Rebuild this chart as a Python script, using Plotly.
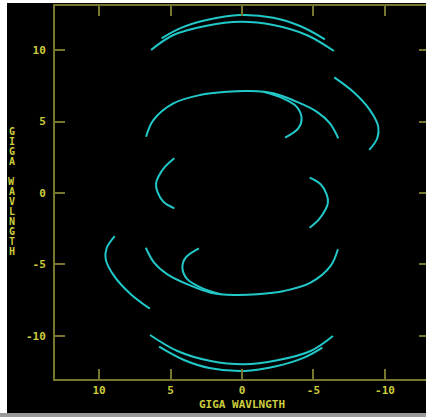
import plotly.graph_objects as go

# UV tracks (u, v in giga-wavelengths); conjugates are (-u, -v)
a1_u = [5.62, 4.34, 2.47, 0.14, -2.19, -4.06, -5.80]
a1_v = [10.82, 11.52, 12.10, 12.45, 12.26, 11.68, 10.75]
a2_u = [6.36, 4.80, 2.47, 0.14, -2.19, -4.52, -6.43]
a2_v = [10.00, 11.05, 11.70, 11.98, 11.75, 11.05, 9.93]
b_u = [6.71, 6.20, 4.80, 2.94, 1.07, -0.56, -2.19, -3.83, -5.22, -6.15, -6.73]
b_v = [3.94, 5.10, 6.27, 6.85, 7.08, 7.13, 6.97, 6.38, 5.69, 4.87, 3.83]
c_u = [-1.50, -2.87, -3.83, -4.17, -3.94, -3.01]
c_v = [7.08, 6.62, 6.03, 5.22, 4.52, 3.87]
d_u = [-6.45, -7.78, -8.95, -9.53, -9.46, -8.90]
d_v = [8.09, 7.08, 5.80, 4.64, 3.83, 3.01]
e_u = [4.73, 5.38, 5.85, 6.01, 5.92, 5.50, 4.73]
e_v = [2.43, 1.84, 1.14, 0.68, 0.09, -0.61, -1.07]

tracks = [(a1_u, a1_v), (a2_u, a2_v), (b_u, b_v), (c_u, c_v), (d_u, d_v), (e_u, e_v)]

tick_vals = [10, 5, 0, -5, -10]
tick_text = ["10", "5", "0", "-5", "-10"]
axis_title = "GIGA WAVLNGTH"

CYAN = "#22c8c8"
LINE = "#76762e"
TEXT = "#cccc3c"
FONT = "DejaVu Sans Mono"

fig = go.Figure()
for u, v in tracks:
    for su, sv in ((u, v), ([-x for x in u], [-y for y in v])):
        fig.add_trace(go.Scatter(x=su, y=sv, mode="lines",
                                 line=dict(color=CYAN, width=2, shape="spline"),
                                 hoverinfo="skip", showlegend=False))
# helper trace so the right-hand tick axis is drawn
fig.add_trace(go.Scatter(x=[], y=[], yaxis="y2", showlegend=False, hoverinfo="skip"))

W, H = 426, 417
ml, mt, mb = 55, 6, 38
pw, ph = W - ml, H - mt - mb

def px_to_paper_x(px):
    return (px - ml) / pw

def px_to_paper_y(py):
    return (H - mb - py) / ph

tickfont = dict(family=FONT, size=11, color=TEXT, weight="bold")
fig.update_layout(
    width=W, height=H,
    margin=dict(l=ml, r=0, t=mt, b=mb, pad=0),
    paper_bgcolor="black", plot_bgcolor="black",
    xaxis=dict(range=[13.08, -12.87], tickvals=tick_vals, ticktext=tick_text,
               showgrid=False, zeroline=False, showline=True, linecolor=LINE, linewidth=2,
               mirror="ticks", ticks="inside", ticklen=10, tickwidth=1.5, tickcolor=LINE,
               tickfont=tickfont, ticklabelstandoff=0),
    yaxis=dict(range=[-13.01, 13.08], tickvals=tick_vals, ticktext=tick_text,
               showgrid=False, zeroline=False, showline=True, linecolor=LINE, linewidth=2,
               mirror=False, ticks="inside", ticklen=10, tickwidth=1.5, tickcolor=LINE,
               tickfont=tickfont, ticklabelstandoff=5),
    yaxis2=dict(range=[-13.01, 13.08], overlaying="y", side="right", tickvals=tick_vals,
                showgrid=False, zeroline=False, showline=False, ticks="inside",
                ticklen=7, tickwidth=1.5, tickcolor=LINE, showticklabels=False),
)

annos = [dict(text=axis_title, x=0, xref="x", y=px_to_paper_y(404.5), yref="paper",
              showarrow=False, xanchor="center", yanchor="middle",
              font=dict(family=FONT, size=11, color=TEXT, weight="bold"))]
for i, ch in enumerate(axis_title):
    if ch == " ":
        continue
    annos.append(dict(text=ch, x=px_to_paper_x(11.5), xref="paper",
                      y=px_to_paper_y(131.5 + 10 * i), yref="paper",
                      showarrow=False, xanchor="center", yanchor="middle",
                      font=dict(family=FONT, size=10, color=TEXT, weight="bold")))
fig.update_layout(annotations=annos)

# screenshot border strips
fig.update_layout(shapes=[
    dict(type="rect", xref="paper", yref="paper", x0=px_to_paper_x(0), x1=px_to_paper_x(7),
         y0=px_to_paper_y(H), y1=px_to_paper_y(0), fillcolor="white", line_width=0, layer="above"),
    dict(type="rect", xref="paper", yref="paper", x0=px_to_paper_x(0), x1=px_to_paper_x(W),
         y0=px_to_paper_y(3), y1=px_to_paper_y(0), fillcolor="white", line_width=0, layer="above"),
    dict(type="rect", xref="paper", yref="paper", x0=px_to_paper_x(0), x1=px_to_paper_x(W),
         y0=px_to_paper_y(H), y1=px_to_paper_y(413), fillcolor="#9a9a9a", line_width=0, layer="above"),
])

fig.write_html("out.html", config={"displayModeBar": False},
               post_script="document.body.style.margin='0';document.body.style.overflow='hidden';")
